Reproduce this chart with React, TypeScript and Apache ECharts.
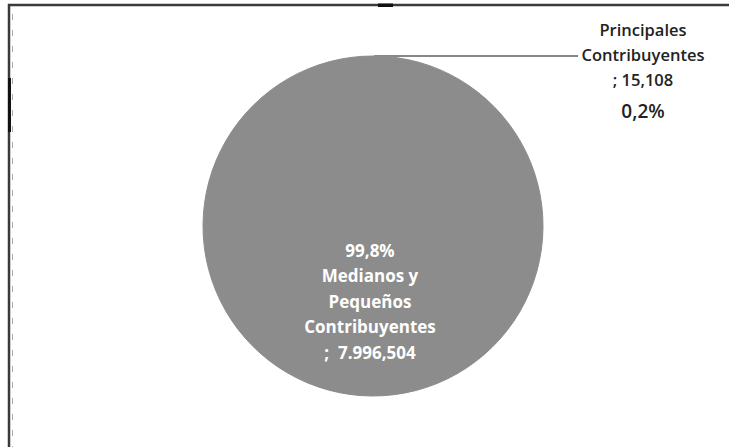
import React, { useEffect, useRef } from "react";
import * as echarts from "echarts";

const categories = ["Principales Contribuyentes", "Medianos y Pequeños Contribuyentes"];
const values = [15108, 7996504];
const valueLabels = ["15,108", "7.996,504"];
const percentLabels = ["0,2%", "99,8%"];

export default function App() {
  const ref = useRef<HTMLDivElement>(null);
  useEffect(() => {
    if (!ref.current) return;
    const chart = echarts.init(ref.current, undefined, { renderer: "svg" });
    const font = "'Open Sans', 'Noto Sans', sans-serif";
    const gray = "#8c8c8c";
    chart.setOption({
      animation: false,
      backgroundColor: "#ffffff",
      graphic: [
        {
          type: "polyline",
          z: 10,
          shape: { points: [[9, 447], [9, 5], [729, 5]] },
          style: { stroke: "#3a3a3a", lineWidth: 2.5, fill: "none" },
        },
        { type: "rect", z: 11, shape: { x: 378, y: 3.5, width: 15, height: 3.5 }, style: { fill: "#111" } },
        { type: "line", z: 10, shape: { x1: 12.5, y1: 14, x2: 12.5, y2: 447 }, style: { stroke: "#aaa", lineWidth: 1, lineDash: [6, 10] } },
        { type: "rect", z: 11, shape: { x: 8, y: 78, width: 3, height: 54 }, style: { fill: "#111" } },
      ],
      series: [
        {
          type: "pie",
          center: [373, 226],
          radius: [0, 170],
          startAngle: 90,
          clockwise: true,
          avoidLabelOverlap: false,
          itemStyle: { color: gray, borderColor: gray, borderWidth: 1 },
          labelLine: { show: true, lineStyle: { color: "#111", width: 1 }, length: 10, length2: 10 },
          emphasis: { disabled: true },
          data: categories.map((name, i) => ({
            name,
            value: values[i],
            label:
              i === 0
                ? {
                    show: true,
                    position: "outside",
                    formatter: "{n|Principales}\n{n|Contribuyentes}\n{n|; " + valueLabels[i] + "}\n{p|" + percentLabels[i] + "}",
                    rich: {
                      n: { fontFamily: font, fontSize: 16.5, fontWeight: 600, color: "#222", lineHeight: 25, align: "center" },
                      p: { fontFamily: font, fontSize: 19, fontWeight: 600, color: "#222", lineHeight: 38, align: "center" },
                    },
                  }
                : {
                    show: true,
                    position: "inside",
                    formatter: "{n|" + percentLabels[i] + "}\n{n|Medianos y}\n{n|Pequeños}\n{n|Contribuyentes}\n{n|;  " + valueLabels[i] + "}",
                    rich: {
                      n: { fontFamily: font, fontSize: 17, fontWeight: 700, color: "#ffffff", lineHeight: 25.5, align: "center" },
                    },
                  },
            labelLine: i === 0 ? { show: true } : { show: false },
          })),
          labelLayout: (params: any) => {
            if (params.dataIndex === 0) {
              const p0 = params.labelLinePoints ? params.labelLinePoints[0] : [373, 56];
              return {
                x: 643,
                y: 73,
                align: "center",
                verticalAlign: "middle",
                labelLinePoints: [p0, [578, p0[1]], [578, p0[1]]],
              };
            }
            return { x: 370, y: 301, align: "center", verticalAlign: "middle" };
          },
        },
      ],
    });
    return () => chart.dispose();
  }, []);
  return <div ref={ref} style={{ position: "fixed", left: 0, top: 0, width: 729, height: 447 }} />;
}
